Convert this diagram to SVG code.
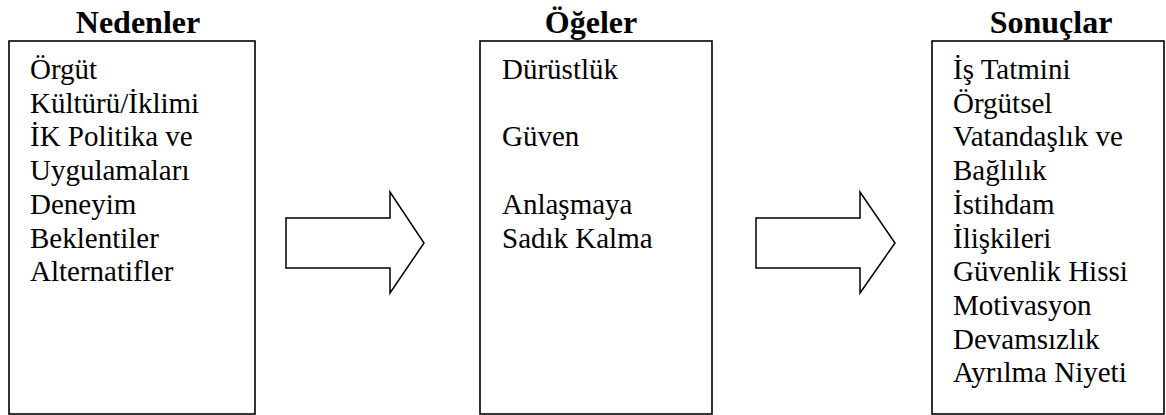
<svg xmlns="http://www.w3.org/2000/svg" width="1166" height="415" viewBox="0 0 1166 415">
  <style>
    .box { fill: #fff; stroke: #000; stroke-width: 1.6; }
    .arrow { fill: #fff; stroke: #000; stroke-width: 1.5; stroke-linejoin: miter; }
    .head { font-weight: bold; text-anchor: middle; }
  </style>
  <rect width="1166" height="415" fill="#fff"/>

  <g font-family="'Liberation Serif', 'Times New Roman', serif" fill="#000">
    <g id="nedenler">
      <text class="head" x="138" y="33" font-size="32">Nedenler</text>
      <rect class="box" x="9" y="41" width="246" height="373"/>
      <g font-size="29">
        <text x="30" y="79">Örgüt</text>
        <text x="30" y="112.7">Kültürü/İklimi</text>
        <text x="30" y="146.4">İK Politika ve</text>
        <text x="30" y="180.1">Uygulamaları</text>
        <text x="30" y="213.8">Deneyim</text>
        <text x="30" y="247.5">Beklentiler</text>
        <text x="30" y="281.2">Alternatifler</text>
      </g>
    </g>

    <g id="ogeler">
      <text class="head" x="591" y="33" font-size="32">Öğeler</text>
      <rect class="box" x="480" y="41" width="232" height="373"/>
      <g font-size="29">
        <text x="502" y="79">Dürüstlük</text>
        <text x="502" y="146.4">Güven</text>
        <text x="502" y="213.8">Anlaşmaya</text>
        <text x="502" y="247.5">Sadık Kalma</text>
      </g>
    </g>

    <g id="sonuclar">
      <text class="head" x="1051" y="33" font-size="32">Sonuçlar</text>
      <rect class="box" x="932" y="41" width="232" height="373"/>
      <g font-size="29">
        <text x="953" y="79">İş Tatmini</text>
        <text x="953" y="112.7">Örgütsel</text>
        <text x="953" y="146.4">Vatandaşlık ve</text>
        <text x="953" y="180.1">Bağlılık</text>
        <text x="953" y="213.8">İstihdam</text>
        <text x="953" y="247.5">İlişkileri</text>
        <text x="953" y="281.2">Güvenlik Hissi</text>
        <text x="953" y="314.9">Motivasyon</text>
        <text x="953" y="348.6">Devamsızlık</text>
        <text x="953" y="382.3">Ayrılma Niyeti</text>
      </g>
    </g>
  </g>

  <g id="connectors">
    <polygon class="arrow" points="286,218 390,218 390,192 424,243 390,293 390,268 286,268"/>
    <polygon class="arrow" points="756,218 860,218 860,192 895,243 860,293 860,268 756,268"/>
  </g>
</svg>
